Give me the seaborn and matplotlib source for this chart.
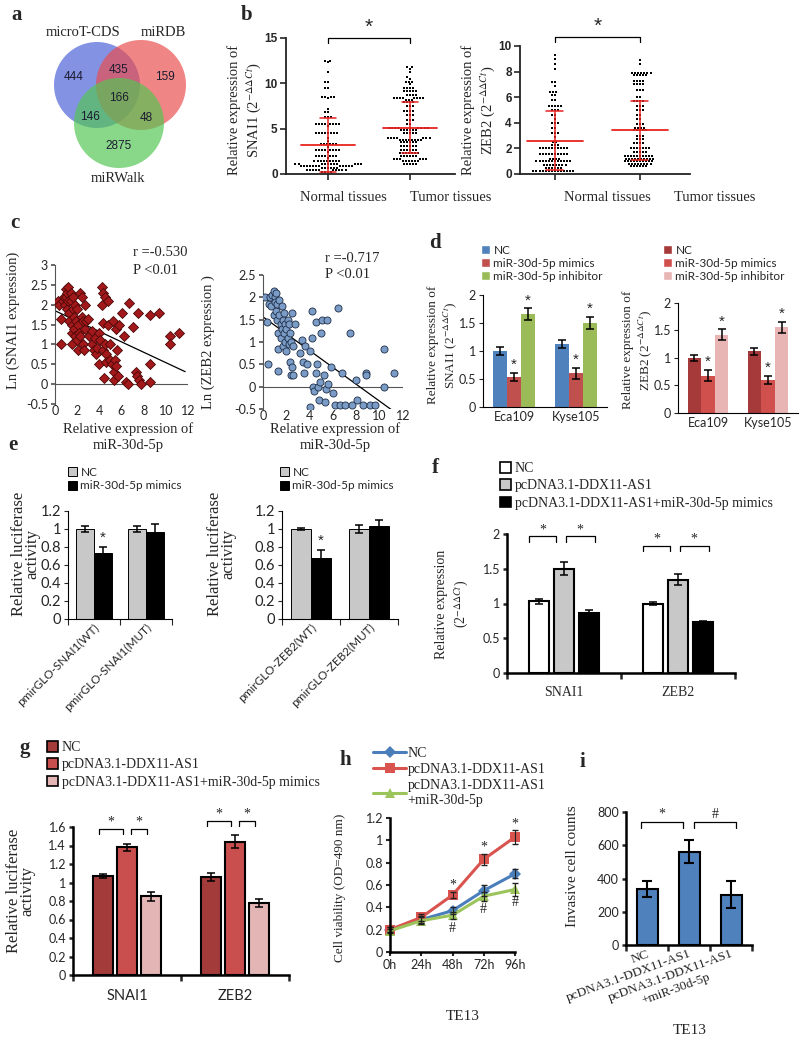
import numpy as np
import pandas as pd
import matplotlib
matplotlib.use("Agg")
import matplotlib.pyplot as plt
from matplotlib.patches import Circle, Patch
from matplotlib.lines import Line2D
import seaborn as sns

sns.set_theme(style="ticks")
plt.rcParams["font.family"] = ["Liberation Serif", "DejaVu Sans"]
plt.rcParams["mathtext.fontset"] = "stix"
plt.rcParams["axes.linewidth"] = 0.8
plt.rcParams["xtick.major.size"] = 3
plt.rcParams["ytick.major.size"] = 3

SERIF = "Liberation Serif"
SANS = "Lato"
ARIAL = "Liberation Sans"
DDCT = r"(2$^{-\Delta\Delta Ct}$)"

# ---------------- data ----------------
# a: predicted targets (A only, AB, B only, ABC, AC, BC, C only)
venn_names = ["microT-CDS", "miRDB", "miRWalk"]
venn_counts = [444, 435, 159, 166, 146, 48, 2875]

# b: tissue expression (2^-ddCt)
snai1_normal = [12.5, 12.5, 12.3, 11.2, 10.1, 10.1, 9.5, 9.5, 8.5, 8.5, 8.5, 8.5, 8.4, 7.2, 6.8, 6.8,
                6.3, 6.3, 6.3, 5.5, 5.5, 5.5, 5.5, 5.5, 5.5, 5.5, 5.5, 5.3, 4.5, 4.5, 4.5, 4.5, 4.5,
                4.5, 4.5, 4.5, 4.0, 3.6, 3.3, 3.3, 3.3, 3.3, 3.3, 3.3, 3.0, 2.6, 2.6, 2.6, 2.6, 2.6,
                2.6, 2.6, 2.6, 2.4, 2.0, 2.0, 2.0, 2.0, 2.0, 2.0, 2.0, 1.8, 1.4, 1.4, 1.4, 1.4, 1.4,
                1.4, 1.4, 1.4, 1.4, 1.1, 1.1, 1.1, 1.1, 1.1, 1.1, 1.1, 1.1, 1.1, 1.1, 1.1, 1.1, 0.9,
                0.9, 0.9, 0.9, 0.9, 0.9, 0.9, 0.9, 0.9, 0.9, 0.9, 0.9, 0.7, 0.7, 0.7, 0.7, 0.7, 0.7,
                0.4, 0.4, 0.4, 0.4, 0.4, 0.4, 0.4, 0.4, 0.4, 0.4, 0.2, 0.2, 0.2, 0.2]
snai1_tumor = [11.8, 11.8, 11.6, 11.2, 10.7, 10.5, 10.2, 10.2, 10.2, 9.9, 9.5, 9.5, 9.5, 9.5, 9.1,
               9.1, 9.1, 9.1, 9.1, 8.7, 8.7, 8.7, 8.7, 8.4, 8.4, 8.4, 8.4, 8.4, 8.4, 8.4, 8.4, 8.2,
               8.2, 8.2, 7.9, 7.9, 7.9, 7.9, 7.5, 7.5, 7.5, 7.0, 7.0, 7.0, 7.0, 6.5, 6.5, 6.5, 6.0,
               6.0, 6.0, 5.5, 5.5, 5.1, 5.1, 5.1, 5.1, 5.1, 5.1, 5.1, 5.1, 4.9, 4.9, 4.9, 4.9, 4.9,
               4.9, 4.5, 4.5, 4.5, 4.5, 4.5, 4.0, 4.0, 4.0, 4.0, 4.0, 4.0, 4.0, 3.8, 3.8, 3.8, 3.8,
               3.8, 3.8, 3.8, 3.8, 3.5, 3.5, 3.5, 3.5, 3.5, 3.5, 3.1, 3.1, 3.1, 3.1, 3.1, 3.1, 2.7,
               2.7, 2.7, 2.7, 2.7, 2.7, 2.3, 2.3, 2.3, 2.3, 2.3, 2.3, 2.3, 2.0, 2.0, 2.0, 2.0, 2.0,
               2.0, 1.6, 1.6, 1.6, 1.6, 1.6, 1.6, 1.4, 1.4, 1.4, 1.4, 1.4, 1.4, 1.1, 1.1, 1.1, 1.1, 1.1]
zeb2_normal = [9.3, 9.0, 8.6, 8.2, 7.2, 7.2, 6.9, 6.4, 6.4, 6.4, 6.2, 6.2, 5.8, 5.8, 5.3, 5.3, 5.3,
               5.3, 5.3, 5.0, 5.0, 5.0, 4.6, 4.6, 4.3, 4.0, 4.0, 4.0, 3.6, 3.6, 3.2, 3.2, 3.2, 2.9,
               2.5, 2.5, 2.3, 2.3, 2.3, 2.0, 2.0, 2.0, 2.0, 2.0, 2.0, 2.0, 2.0, 2.0, 2.0, 1.6, 1.6,
               1.6, 1.6, 1.6, 1.6, 1.6, 1.6, 1.6, 1.6, 1.2, 1.2, 1.2, 1.2, 1.0, 1.0, 1.0, 1.0, 1.0,
               1.0, 1.0, 1.0, 1.0, 1.0, 1.0, 1.0, 0.7, 0.7, 0.7, 0.7, 0.7, 0.7, 0.7, 0.7, 0.5, 0.5,
               0.5, 0.5, 0.5, 0.5, 0.2, 0.2, 0.2, 0.2, 0.2, 0.2, 0.2, 0.2, 0.2, 0.2, 0.2, 0.2, 0.2, 0.2]
zeb2_tumor = [8.9, 8.6, 7.9, 7.9, 7.9, 7.9, 7.9, 7.9, 7.9, 7.7, 7.7, 7.7, 7.7, 7.7, 7.3, 7.3, 7.3,
              7.3, 7.0, 7.0, 7.0, 7.0, 6.6, 6.6, 6.6, 6.0, 6.0, 5.7, 5.7, 5.7, 5.7, 5.3, 5.3, 5.3,
              5.0, 5.0, 5.0, 4.6, 4.6, 4.3, 4.3, 3.9, 3.9, 3.9, 3.6, 3.6, 3.6, 3.6, 3.4, 3.4, 3.4,
              3.4, 3.4, 3.0, 3.0, 3.0, 2.7, 2.7, 2.7, 2.4, 2.4, 2.4, 2.4, 2.0, 2.0, 2.0, 2.0, 2.0,
              2.0, 2.0, 1.7, 1.7, 1.7, 1.7, 1.7, 1.4, 1.4, 1.4, 1.4, 1.4, 1.4, 1.4, 1.4, 1.4, 1.4,
              1.2, 1.2, 1.2, 1.2, 1.2, 1.2, 1.2, 1.2, 1.2, 1.2, 1.0, 1.0, 1.0, 1.0, 1.0, 1.0, 1.0,
              1.0, 1.0, 1.0, 0.8, 0.8, 0.8, 0.8, 0.8, 0.8, 0.8, 0.8, 0.6, 0.6, 0.6, 0.6, 0.6, 0.6]
tissue_names = ["Normal tissues", "Tumor tissues"]
snai1_mean, snai1_sd = [3.2, 5.1], [3.0, 2.8]
zeb2_mean, zeb2_sd = [2.6, 3.4], [2.3, 2.3]

# c: correlation with miR-30d-5p
c1_x = [0.3, 0.4, 0.5, 0.5, 0.7, 0.8, 0.9, 1.0, 1.0, 1.1, 1.1, 1.2, 1.2, 1.3, 1.3, 1.4, 1.4, 1.5,
        1.5, 1.5, 1.6, 1.6, 1.7, 1.7, 1.8, 1.8, 1.9, 2.0, 2.0, 2.1, 2.1, 2.2, 2.3, 2.3, 2.4, 2.4,
        2.5, 2.5, 2.6, 2.7, 2.7, 2.8, 3.0, 3.1, 3.3, 3.3, 3.5, 3.6, 3.7, 3.8, 4.0, 4.0, 4.1, 4.2,
        4.2, 4.3, 4.3, 4.3, 4.4, 4.5, 4.5, 4.6, 4.6, 4.8, 4.8, 5.0, 5.0, 5.1, 5.2, 5.3, 5.3, 5.4,
        5.5, 5.5, 5.6, 5.7, 5.8, 6.0, 6.2, 6.4, 6.6, 6.7, 7.0, 7.3, 7.4, 7.5, 7.6, 7.8, 8.6, 8.6,
        8.6, 9.4, 10.4, 10.4, 11.2]
c1_y = [2.1, 2.0, 1.65, 1.0, 2.1, 2.2, 2.0, 2.4, 2.2, 2.3, 1.9, 2.45, 2.1, 1.8, 1.6, 2.3, 2.1, 1.5,
        1.3, 1.0, 2.2, 1.9, 1.7, 1.4, 1.2, 2.0, 1.6, 1.9, 1.1, 1.5, 0.85, 1.3, 2.3, 1.2, 2.2, 1.7,
        1.6, 1.0, 0.85, 2.0, 1.4, 1.6, 1.65, 1.2, 1.35, 1.0, 0.85, 1.15, 0.75, 0.9, 1.3, 0.5, 1.1,
        2.45, 2.0, 2.3, 1.55, 0.85, 0.15, 2.2, 1.0, 0.75, 0.55, 1.5, 2.1, 0.6, 1.0, 0.5, 1.6, 0.3,
        0.1, 0.6, 0.45, 1.4, 0.85, 0.2, 1.5, 1.8, 1.2, 0.05, 0.0, 2.05, 1.45, 0.3, 0.2, 1.8, 0.1,
        0.0, 1.75, 0.5, 0.05, 1.8, 1.2, 1.0, 1.3]
c2_x = [0.2, 0.3, 0.4, 0.5, 0.6, 0.7, 0.8, 0.9, 0.9, 1.0, 1.0, 1.1, 1.1, 1.2, 1.2, 1.3, 1.3, 1.3,
        1.4, 1.4, 1.5, 1.5, 1.6, 1.6, 1.7, 1.7, 1.8, 1.8, 1.9, 1.9, 2.0, 2.0, 2.1, 2.1, 2.2, 2.2,
        2.3, 2.3, 2.4, 2.4, 2.5, 2.5, 2.6, 2.6, 2.7, 3.2, 3.3, 3.4, 3.5, 3.6, 3.8, 4.0, 4.0, 4.2,
        4.2, 4.3, 4.4, 4.5, 4.5, 4.6, 4.7, 4.8, 4.9, 5.0, 5.1, 5.2, 5.3, 5.4, 5.5, 5.6, 5.8, 6.0,
        6.2, 6.4, 6.6, 6.8, 7.0, 7.5, 7.6, 8.0, 8.1, 8.6, 8.8, 8.8, 9.2, 9.6, 10.4, 10.4, 11.2]
c2_y = [2.0, 1.45, 0.5, 1.85, 2.0, 1.8, 2.05, 2.15, 1.6, 2.0, 1.9, 1.7, 2.1, 1.85, 1.5, 1.2, 0.35,
        0.85, 1.95, 1.6, 1.4, 1.1, 1.8, 1.3, 1.5, 0.9, 1.2, 1.65, 1.4, 1.0, 1.3, 0.8, 1.5, 1.1, 0.95,
        1.4, 1.2, 0.55, 1.0, 0.25, 0.45, 1.65, 0.9, 0.25, 1.4, 0.75, 1.05, 0.55, 0.3, 0.9, 0.5, 0.8,
        -0.45, 1.7, 1.1, 0.0, -0.1, 1.45, 0.3, 0.5, 0.0, -0.3, 0.1, 1.2, 1.5, 0.25, -0.35, -0.05,
        1.5, 0.05, 0.45, -0.15, -0.4, 1.75, -0.4, 0.3, -0.4, 1.2, -0.4, 0.15, -0.3, -0.4, 0.3, 0.25,
        -0.4, -0.4, 0.85, 0.0, 0.3]

# d: SNAI1 / ZEB2 after mimics / inhibitor
d_cells = ["Eca109", "Kyse105"]
d_groups = ["NC", "miR-30d-5p mimics", "miR-30d-5p inhibitor"]
d_snai1 = [[1.00, 1.12], [0.54, 0.60], [1.66, 1.50]]
d_snai1_err = [[0.08, 0.07], [0.07, 0.10], [0.10, 0.11]]
d_zeb2 = [[1.00, 1.12], [0.68, 0.60], [1.42, 1.56]]
d_zeb2_err = [[0.06, 0.06], [0.10, 0.08], [0.10, 0.10]]

# e: luciferase reporter
e_groups = ["NC", "miR-30d-5p mimics"]
e_snai1_cats = ["pmirGLO-SNAI1(WT)", "pmirGLO-SNAI1(MUT)"]
e_zeb2_cats = ["pmirGLO-ZEB2(WT)", "pmirGLO-ZEB2(MUT)"]
e_snai1 = [[1.00, 1.00], [0.73, 0.97]]
e_snai1_err = [[0.03, 0.03], [0.07, 0.09]]
e_zeb2 = [[1.00, 1.00], [0.68, 1.03]]
e_zeb2_err = [[0.015, 0.04], [0.09, 0.07]]

# f, g: rescue experiments
fg_cats = ["SNAI1", "ZEB2"]
fg_groups = ["NC", "pcDNA3.1-DDX11-AS1", "pcDNA3.1-DDX11-AS1+miR-30d-5p mimics"]
f_vals = [[1.03, 1.00], [1.50, 1.34], [0.86, 0.73]]
f_err = [[0.03, 0.02], [0.09, 0.08], [0.04, 0.02]]
g_vals = [[1.07, 1.06], [1.38, 1.44], [0.85, 0.78]]
g_err = [[0.02, 0.04], [0.04, 0.07], [0.05, 0.04]]

# h: CCK-8 viability in TE13
h_times = ["0h", "24h", "48h", "72h", "96h"]
h_groups = ["NC", "pcDNA3.1-DDX11-AS1", "pcDNA3.1-DDX11-AS1\n+miR-30d-5p"]
h_nc = [0.20, 0.29, 0.37, 0.55, 0.70]
h_nc_err = [0.02, 0.03, 0.03, 0.05, 0.04]
h_ddx = [0.20, 0.31, 0.51, 0.83, 1.03]
h_ddx_err = [0.02, 0.03, 0.03, 0.05, 0.06]
h_mir = [0.19, 0.28, 0.33, 0.50, 0.56]
h_mir_err = [0.02, 0.03, 0.03, 0.04, 0.06]
h_marked = [2, 3, 4]

# i: transwell invasion in TE13
i_labels = ["NC", "pcDNA3.1-DDX11-AS1", "pcDNA3.1-DDX11-AS1\n+miR-30d-5p"]
i_counts = [335, 562, 302]
i_err = [48, 70, 80]

# ---------------- helpers ----------------
W, H = 800, 1041
fig = plt.figure(figsize=(W / 100, H / 100), dpi=100)


def px_axes(l, t, r, b):
    return fig.add_axes([l / W, 1 - b / H, (r - l) / W, (b - t) / H])


def ftext(x, y, s, **kw):
    kw.setdefault("ha", "center")
    kw.setdefault("va", "center")
    return fig.text(x / W, 1 - y / H, s, **kw)


def flegend(handles, labels, x, y, size, family, **kw):
    opts = dict(loc="upper left", bbox_to_anchor=(x / W, 1 - y / H), frameon=False,
                borderpad=0, borderaxespad=0, prop={"family": family, "size": size},
                handlelength=0.8, handleheight=0.8, handletextpad=0.25, labelspacing=0.15)
    opts.update(kw)
    return fig.legend(handles, labels, **opts)


def grouped_bars(ax, cats, groups, vals, errs, colors, width, gap, edge="none", lw=0, cap=3):
    rows = [{"cat": c, "group": g, "value": v}
            for g, gv in zip(groups, vals) for c, v in zip(cats, gv)]
    df = pd.DataFrame(rows)
    sns.barplot(data=df, x="cat", y="value", hue="group", order=cats, hue_order=groups,
                palette=colors, saturation=1, width=width, gap=gap, errorbar=None,
                edgecolor=edge, linewidth=lw, legend=False, ax=ax)
    centers = []
    for cont, gv, ge in zip(ax.containers, vals, errs):
        xs = [b.get_x() + b.get_width() / 2 for b in cont]
        ax.errorbar(xs, [b.get_height() for b in cont], yerr=ge, fmt="none", ecolor="black",
                    elinewidth=1.1, capsize=cap, capthick=1.1, zorder=4)
        centers.append(xs)
    bw = ax.containers[0][0].get_width()
    return centers, bw


def excel_axes(ax, n, ylim, yticks, lw, ysize=8.5):
    ax.set_xlim(-0.5, n - 0.5)
    ax.set_ylim(*ylim)
    ax.set_yticks(yticks)
    ax.set_yticklabels([f"{t:g}" for t in yticks])
    ax.set_xticks(np.arange(n + 1) - 0.5, minor=True)
    ax.tick_params(axis="x", which="major", length=0)
    ax.tick_params(axis="x", which="minor", length=4, width=lw, direction="out")
    ax.tick_params(axis="y", length=3, width=lw, labelsize=ysize, labelfontfamily=SANS, pad=2)
    sns.despine(ax=ax)
    for s in ("left", "bottom"):
        ax.spines[s].set_linewidth(lw)
        ax.spines[s].set_color("black")
    ax.set_xlabel("")
    ax.set_ylabel("")


def bracket(ax, x1, x2, y, drop, label, size=10, dy=0.0, family=SERIF):
    ax.plot([x1, x1, x2, x2], [y - drop, y, y, y - drop], color="black", lw=0.9, clip_on=False)
    ax.text((x1 + x2) / 2, y + dy, label, ha="center", va="bottom", fontsize=size,
            family=family, clip_on=False)


# ---------------- a: Venn ----------------
ax_a = px_axes(30, 10, 210, 190)
ax_a.set_xlim(30, 210)
ax_a.set_ylim(190, 10)
ax_a.axis("off")
venn_circles = [((97, 85), 43, "#4A5FD6"), ((141, 85), 45, "#EA4C4C"), ((119, 123), 45, "#52C652")]
for center, radius, col in venn_circles:
    ax_a.add_patch(Circle(center, radius, facecolor=col, alpha=0.68, edgecolor="none"))
venn_text_pos = [(74, 77), (119, 70), (165, 77), (119, 98), (90, 117), (146, 118), (119, 146)]
for (x, y), n in zip(venn_text_pos, venn_counts):
    ax_a.text(x, y, str(n), ha="center", va="center", fontsize=8.5, family=ARIAL, color="#1c1c30")
for (x, y), name in zip([(83, 33), (163, 33), (118, 178)], venn_names):
    ax_a.text(x, y, name, ha="center", va="center", fontsize=10.5, family=SERIF)


# ---------------- b: swarm plots ----------------
def swarm_panel(ax, normal, tumor, means, sds, ymax, yticks, by, drop, sy):
    df = pd.DataFrame({"tissue": [tissue_names[0]] * len(normal) + [tissue_names[1]] * len(tumor),
                       "value": normal + tumor})
    sns.swarmplot(data=df, x="tissue", y="value", order=tissue_names, color="black",
                  marker="s", size=2.1, linewidth=0, ax=ax, warn_thresh=1)
    red = "#E8231F"
    for i, (m, s) in enumerate(zip(means, sds)):
        ax.plot([i - 0.33, i + 0.33], [m, m], color=red, lw=1.3, zorder=5)
        ax.plot([i, i], [max(m - s, 0.05), m + s], color=red, lw=1.1, zorder=5)
        ax.plot([i - 0.1, i + 0.1], [m + s, m + s], color=red, lw=1.1, zorder=5)
        ax.plot([i - 0.1, i + 0.1], [max(m - s, 0.05)] * 2, color=red, lw=1.1, zorder=5)
    ax.set_ylim(0, ymax)
    ax.set_yticks(yticks)
    ax.set_xlabel("")
    ax.set_ylabel("")
    sns.despine(ax=ax)
    for s in ("left", "bottom"):
        ax.spines[s].set_linewidth(1.3)
        ax.spines[s].set_color("#222222")
    ax.tick_params(axis="y", length=4, width=1.2, labelsize=8.5, labelfontfamily=ARIAL, pad=2)
    ax.tick_params(axis="x", length=4, width=1.2, labelbottom=False)
    for t in ax.get_yticklabels():
        t.set_fontweight("bold")
    bracket(ax, 0, 1, by, drop, "", 1)
    ax.text(0.5, sy, "*", ha="center", va="center", fontsize=15, family=ARIAL, clip_on=False)


ax_b1 = px_axes(286, 38, 455, 174)
swarm_panel(ax_b1, snai1_normal, snai1_tumor, snai1_mean, snai1_sd, 15, [0, 5, 10, 15], 15.0, 0.6, 16.2)
ax_b1.set_xlim(-0.51, 1.55)
ax_b2 = px_axes(520, 46, 690, 174)
swarm_panel(ax_b2, zeb2_normal, zeb2_tumor, zeb2_mean, zeb2_sd, 10, [0, 2, 4, 6, 8, 10], 10.7, 0.4, 11.5)
ax_b2.set_xlim(-0.41, 1.59)
for x, name in zip([343, 451, 607, 715], tissue_names * 2):
    ftext(x, 197, name, fontsize=10.5)
ftext(245, 110, "Relative expression of\nSNAI1 " + DDCT, rotation=90, fontsize=10.5, linespacing=1.2)
ftext(479, 110, "Relative expression of\nZEB2 " + DDCT, rotation=90, fontsize=10.5, linespacing=1.2)


# ---------------- c: correlations ----------------
def corr_panel(ax, xs, ys, marker, face, edge, ylim, yticks):
    sns.scatterplot(x=xs, y=ys, marker=marker, color=face, edgecolor=edge, s=26, linewidth=0.6,
                    ax=ax, zorder=3)
    sns.regplot(x=xs, y=ys, scatter=False, ci=None, truncate=False, color="black",
                line_kws={"lw": 0.9}, ax=ax)
    ax.set_xlim(0, 12)
    ax.set_ylim(*ylim)
    ax.set_xticks(range(0, 13, 2))
    ax.set_yticks(yticks)
    ax.set_yticklabels([f"{t:g}" for t in yticks])
    ax.set_xlabel("")
    ax.set_ylabel("")
    sns.despine(ax=ax, bottom=True)
    ax.spines["left"].set_color("#555555")
    ax.axhline(0, color="#555555", lw=0.8, zorder=1)
    ax.tick_params(axis="x", length=0, labelsize=9, labelfontfamily=SANS, pad=1)
    ax.tick_params(axis="y", length=3, labelsize=9, labelfontfamily=SANS, pad=2, color="#555555")


ax_c1 = px_axes(55, 265, 188, 404)
corr_panel(ax_c1, c1_x, c1_y, "D", "#A3191B", "#4A0808", (-0.5, 3), [-0.5, 0, 0.5, 1, 1.5, 2, 2.5, 3])
ax_c2 = px_axes(263, 275, 403, 409)
corr_panel(ax_c2, c2_x, c2_y, "o", "#7A9CC6", "#1F2F48", (-0.5, 2.5), [-0.5, 0, 0.5, 1, 1.5, 2, 2.5])
ftext(13, 320, "Ln (SNAI1 expression)", rotation=90, fontsize=10.5)
ftext(208, 342, "Ln (ZEB2 expression )", rotation=90, fontsize=10.5)
ftext(133, 253, "r =-0.530", ha="left", fontsize=10.5)
ftext(133, 270, "P <0.01", ha="left", fontsize=10.5)
ftext(325, 258, "r =-0.717", ha="left", fontsize=10.5)
ftext(325, 274, "P <0.01", ha="left", fontsize=10.5)
ftext(128, 437, "Relative expression of\nmiR-30d-5p", fontsize=10.5, linespacing=1.35)
ftext(335, 437, "Relative expression of\nmiR-30d-5p", fontsize=10.5, linespacing=1.35)

# ---------------- d: bars ----------------
d1_colors = ["#4F81BD", "#C0504D", "#9BBB59"]
d2_colors = ["#A63A3A", "#D0504E", "#E8B4B4"]
for box, vals, errs, colors, lab_x, lab_y, leg_x, gene in [
        ((483, 295, 607, 407), d_snai1, d_snai1_err, d1_colors, 443, 345, 481, "SNAI1"),
        ((678, 303, 798, 413), d_zeb2, d_zeb2_err, d2_colors, 638, 350, 663, "ZEB2")]:
    ax = px_axes(*box)
    centers, bw = grouped_bars(ax, d_cells, d_groups, vals, errs, colors, 0.68, 0, cap=3)
    excel_axes(ax, 2, (0, 2), [0, 0.5, 1, 1.5, 2], 0.8, 9)
    ax.tick_params(axis="x", which="minor", length=0)
    ax.tick_params(axis="x", labelsize=9, labelfontfamily=SANS, pad=3)
    for k in (1, 2):
        for x, v, e in zip(centers[k], vals[k], errs[k]):
            ax.text(x, v + e + 0.02, "*", ha="center", va="bottom", fontsize=11, family=ARIAL)
    ftext(lab_x, lab_y, "Relative expression of\n" + gene + " " + DDCT, rotation=90,
          fontsize=9.5, linespacing=1.2)
    flegend([Patch(facecolor=c) for c in colors], d_groups, leg_x, 245, 8.5, SANS)

# ---------------- e: luciferase ----------------
e_colors = ["#C8C8C8", "black"]
for box, cats, vals, errs, lab_x, leg_x in [
        ((68, 511, 172, 619), e_snai1_cats, e_snai1, e_snai1_err, 26, 68),
        ((282, 511, 398, 619), e_zeb2_cats, e_zeb2, e_zeb2_err, 222, 280)]:
    ax = px_axes(*box)
    centers, bw = grouped_bars(ax, cats, e_groups, vals, errs, e_colors, 0.68, 0,
                               edge="black", lw=0.7, cap=3)
    excel_axes(ax, 2, (0, 1.2), [0, 0.2, 0.4, 0.6, 0.8, 1, 1.2], 0.8, 10.5)
    ax.set_xticks(range(2))
    ax.set_xticklabels(cats, rotation=45, ha="right", rotation_mode="anchor")
    ax.tick_params(axis="x", labelsize=8.5, labelfontfamily=SANS, pad=2)
    x, v, e = centers[1][0], vals[1][0], errs[1][0]
    ax.text(x, v + e + 0.02, "*", ha="center", va="bottom", fontsize=11, family=ARIAL)
    ftext(lab_x, 554, "Relative luciferase\nactivity", rotation=90, fontsize=12, linespacing=0.8)
    flegend([Patch(facecolor=c, edgecolor="black", linewidth=0.7) for c in e_colors], e_groups,
            leg_x, 467, 8.5, SANS, labelspacing=0.2)

# ---------------- f: rescue expression ----------------
ax_f = px_axes(507, 534, 735, 673)
f_colors = ["white", "#C8C8C8", "black"]
centers, bw = grouped_bars(ax_f, fg_cats, fg_groups, f_vals, f_err, f_colors, 0.65, 0.2,
                           edge="black", lw=1.5, cap=3)
excel_axes(ax_f, 2, (0, 2), [0, 0.5, 1, 1.5, 2], 1.8, 9)
ax_f.tick_params(axis="x", labelsize=10, labelfontfamily=SERIF, pad=9)
for j, by in enumerate([1.97, 1.83]):
    c0, c1, c2 = centers[0][j], centers[1][j], centers[2][j]
    bracket(ax_f, c0 - 0.5 * bw, c1 - 0.4 * bw, by, 0.08, "*", 10, 0.0)
    bracket(ax_f, c1 + 0.1 * bw, c2 + 0.3 * bw, by, 0.08, "*", 10, 0.0)
ftext(453, 604, "Relative expression\n" + DDCT, rotation=90, fontsize=10, linespacing=1.3)
flegend([Patch(facecolor=c, edgecolor="black", linewidth=1.2) for c in f_colors], fg_groups,
        500, 462, 10, SERIF, labelspacing=0.3)

# ---------------- g: rescue luciferase ----------------
ax_g = px_axes(73, 827, 289, 975)
g_colors = ["#A33B3B", "#C94F4F", "#E3B5B5"]
centers, bw = grouped_bars(ax_g, fg_cats, fg_groups, g_vals, g_err, g_colors, 0.67, 0.2,
                           edge="black", lw=1.5, cap=3)
excel_axes(ax_g, 2, (0, 1.6), [0, 0.2, 0.4, 0.6, 0.8, 1, 1.2, 1.4, 1.6], 1.8, 9)
ax_g.tick_params(axis="x", labelsize=10.5, labelfontfamily=SANS, pad=10)
for j, by in enumerate([1.58, 1.67]):
    c0, c1, c2 = centers[0][j], centers[1][j], centers[2][j]
    bracket(ax_g, c0 - 0.2 * bw, c1 - 0.2 * bw, by, 0.06, "*", 10, 0.0)
    bracket(ax_g, c1 + 0.2 * bw, c2 - 0.2 * bw, by, 0.06, "*", 10, 0.0)
ftext(21, 891, "Relative luciferase\nactivity", rotation=90, fontsize=12, linespacing=0.8)
flegend([Patch(facecolor=c, edgecolor="black", linewidth=1.2) for c in g_colors], fg_groups,
        47, 741, 10, SERIF, labelspacing=0.3)

# ---------------- h: viability curves ----------------
ax_h = px_axes(390, 818, 515, 952)
h_colors = ["#4A7EBB", "#D9534F", "#9BC45A"]
h_markers = ["D", "s", "^"]
h_series = [h_nc, h_ddx, h_mir]
h_errs = [h_nc_err, h_ddx_err, h_mir_err]
df_h = pd.DataFrame([{"t": k, "group": g, "od": v}
                     for g, vals in zip(h_groups, h_series) for k, v in enumerate(vals)])
sns.lineplot(data=df_h, x="t", y="od", hue="group", style="group", hue_order=h_groups,
             style_order=h_groups, palette=h_colors, markers=h_markers, dashes=False,
             markersize=6.5, linewidth=2.2, markeredgewidth=0, legend=False, ax=ax_h)
for line in ax_h.lines:
    line.set_clip_on(False)
for vals, errs in zip(h_series, h_errs):
    ax_h.errorbar(range(len(vals)), vals, yerr=errs, fmt="none", ecolor="#222222",
                  elinewidth=0.8, capsize=2.5, clip_on=False)
for k in h_marked:
    ax_h.text(k, h_ddx[k] + h_ddx_err[k] + 0.06, "*", ha="center", va="center", fontsize=10,
              family=SERIF)
    ax_h.text(k, h_mir[k] - 0.12, "#", ha="center", va="center", fontsize=10, family=SERIF)
ax_h.set_xlim(0, len(h_times) - 1)
ax_h.set_ylim(0, 1.2)
ax_h.set_xticks(range(len(h_times)))
ax_h.set_xticklabels(h_times)
ax_h.set_yticks([0, 0.2, 0.4, 0.6, 0.8, 1, 1.2])
ax_h.set_yticklabels(["0", "0.2", "0.4", "0.6", "0.8", "1", "1.2"])
ax_h.set_xlabel("")
ax_h.set_ylabel("")
sns.despine(ax=ax_h)
for s in ("left", "bottom"):
    ax_h.spines[s].set_linewidth(1.8)
    ax_h.spines[s].set_color("black")
ax_h.tick_params(axis="both", length=3, width=1.5, labelsize=9, labelfontfamily=SANS, pad=2)
ftext(340, 888, "Cell viability (OD=490 nm)", rotation=90, fontsize=9.5)
ftext(463, 1017, "TE13", fontsize=11)
flegend([Line2D([0], [0], color=c, lw=2.2, marker=m, markersize=6.5, markeredgewidth=0)
         for c, m in zip(h_colors, h_markers)], h_groups, 373, 747, 10, SERIF,
        handlelength=2.4, handletextpad=0.1, labelspacing=0.2)

# ---------------- i: invasion ----------------
ax_i = px_axes(626, 812, 752, 945)
sns.barplot(x=i_labels, y=i_counts, color="#4F81BD", saturation=1, width=0.5,
            edgecolor="black", linewidth=1.5, errorbar=None, ax=ax_i)
bars = ax_i.containers[0]
ic = [b.get_x() + b.get_width() / 2 for b in bars]
ibw = bars[0].get_width()
ax_i.errorbar(ic, [b.get_height() for b in bars], yerr=i_err, fmt="none", ecolor="black",
              elinewidth=1.5, capsize=3.5, capthick=1.5)
excel_axes(ax_i, 3, (0, 800), [0, 200, 400, 600, 800], 1.8, 9)
ax_i.set_xticks(range(3))
ax_i.set_xticklabels(i_labels, rotation=20, ha="right", rotation_mode="anchor",
                     multialignment="center")
ax_i.tick_params(axis="x", labelsize=9.5, labelfontfamily=SERIF, pad=2)
bracket(ax_i, ic[0] - 0.3 * ibw, ic[1] - 0.3 * ibw, 740, 35, "*", 10, 8)
bracket(ax_i, ic[1] + 0.25 * ibw, ic[2] + 0.25 * ibw, 740, 35, "#", 10, 8)
ftext(573, 866, "Invasive cell counts", rotation=90, fontsize=11)
ftext(690, 1030, "TE13", fontsize=11)

# ---------------- panel letters ----------------
for letter, (x, y) in zip("abcdefghi", [(17, 15), (247, 15), (15, 223), (435, 243), (13, 445),
                                        (435, 468), (25, 748), (345, 760), (582, 762)]):
    ftext(x, y, letter, fontsize=15, fontweight="bold", family=SERIF)

fig.savefig("out.png", dpi=100)
